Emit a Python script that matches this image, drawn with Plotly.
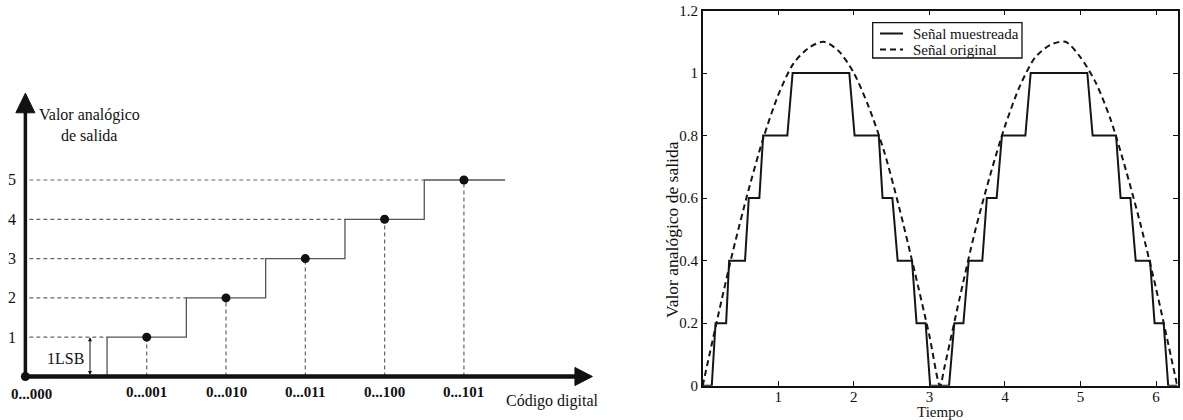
import plotly.graph_objects as go

W, H = 1183, 420
FONT = "Liberation Serif, Times New Roman, serif"

# ---------------- Right panel data ----------------
stair_t = [0, 0.12, 0.17, 0.31, 0.35, 0.56, 0.61, 0.75, 0.80, 1.12, 1.19, 1.94, 2.01,
           2.33, 2.38, 2.51, 2.58, 2.77, 2.83, 2.95, 3.01, 3.26, 3.33, 3.45, 3.52,
           3.70, 3.76, 3.89, 3.96, 4.27, 4.34, 5.09, 5.16, 5.47, 5.53, 5.66, 5.73,
           5.92, 5.98, 6.10, 6.16, 6.28]
stair_v = [0, 0, 0.2, 0.2, 0.4, 0.4, 0.6, 0.6, 0.8, 0.8, 1.0, 1.0, 0.8,
           0.8, 0.6, 0.6, 0.4, 0.4, 0.2, 0.2, 0, 0, 0.2, 0.2, 0.4,
           0.4, 0.6, 0.6, 0.8, 0.8, 1.0, 1.0, 0.8, 0.8, 0.6, 0.6, 0.4,
           0.4, 0.2, 0.2, 0, 0]
# Original signal
orig_t = [0, 0.2, 0.4, 0.6, 0.8, 1.0, 1.2, 1.4, 1.6, 1.8, 2.0, 2.2, 2.4, 2.6, 2.8,
          3.0, 3.14, 3.2, 3.4, 3.6, 3.8, 4.0, 4.2, 4.4, 4.6, 4.8, 5.0, 5.2, 5.4,
          5.6, 5.8, 6.0, 6.2, 6.28]
orig_v = [0, 0.22, 0.43, 0.62, 0.79, 0.93, 1.03, 1.08, 1.10, 1.07, 1.00, 0.89, 0.75,
          0.57, 0.37, 0.16, 0.0, 0.06, 0.28, 0.49, 0.67, 0.83, 0.96, 1.05, 1.09,
          1.10, 1.05, 0.97, 0.85, 0.69, 0.51, 0.31, 0.09, 0.0]
series_names = ["Señal muestreada", "Señal original"]
x_ticks = [1, 2, 3, 4, 5, 6]
y_ticks = [0, 0.2, 0.4, 0.6, 0.8, 1.0, 1.2]
y_ticktext = ["0", "0.2", "0.4", "0.6", "0.8", "1", "1.2"]

# ---------------- Left panel data ----------------
codes = ["0...001", "0...010", "0...011", "0...100", "0...101"]
code_pos = [1, 2, 3, 4, 5]
levels = [1, 2, 3, 4, 5]
origin_label = "0...000"
origin_x = -0.53
stair_end = 5.52
x_arrow_end = 6.62
y_arrow_end = 7.21

LINE_COL = "#151515"
DASH = "6px,4px"

fig = go.Figure()

# Right panel traces
fig.add_trace(go.Scatter(x=stair_t, y=stair_v, mode="lines", name=series_names[0],
                         line=dict(color=LINE_COL, width=2), xaxis="x", yaxis="y", showlegend=False))
fig.add_trace(go.Scatter(x=orig_t, y=orig_v, mode="lines", name=series_names[1],
                         line=dict(color=LINE_COL, width=2, dash=DASH, shape="spline", smoothing=0.8),
                         xaxis="x", yaxis="y", showlegend=False))

# Left panel traces
stair_x = [code_pos[0] - 0.5] + [c + 0.5 for c in code_pos[:-1]] + [stair_end]
stair_y = [0] + levels
fig.add_trace(go.Scatter(x=stair_x, y=stair_y, mode="lines", line=dict(color="#555", width=1.3, shape="vh"),
                         xaxis="x2", yaxis="y2", showlegend=False))
fig.add_trace(go.Scatter(x=code_pos, y=levels, mode="markers", marker=dict(color="#111", size=9),
                         xaxis="x2", yaxis="y2", showlegend=False))
fig.add_trace(go.Scatter(x=[origin_x], y=[0], mode="markers", marker=dict(color="#111", size=9),
                         xaxis="x2", yaxis="y2", showlegend=False))

shapes = []
dash_style = dict(color="#666", width=1.2, dash="4px,3px")
for c, lv in zip(code_pos, levels):
    shapes.append(dict(type="line", xref="x2", yref="y2", x0=origin_x + 0.05, x1=c - 0.5, y0=lv, y1=lv,
                       line=dash_style, layer="below"))
    shapes.append(dict(type="line", xref="x2", yref="y2", x0=c, x1=c, y0=0, y1=lv,
                       line=dash_style, layer="below"))
# axes lines with arrows
shapes.append(dict(type="line", xref="x2", yref="y2", x0=origin_x, x1=x_arrow_end - 0.2, y0=0, y1=0,
                   line=dict(color="#111", width=4.5)))
shapes.append(dict(type="path", xref="x2", yref="y2",
                   path=f"M {x_arrow_end-0.22},0.23 L {x_arrow_end},0 L {x_arrow_end-0.22},-0.23 Z",
                   fillcolor="#111", line=dict(color="#111", width=1)))
shapes.append(dict(type="line", xref="x2", yref="y2", x0=origin_x, x1=origin_x, y0=0, y1=y_arrow_end - 0.45,
                   line=dict(color="#111", width=3.5)))
shapes.append(dict(type="path", xref="x2", yref="y2",
                   path=f"M {origin_x-0.12},{y_arrow_end-0.5} L {origin_x},{y_arrow_end} L {origin_x+0.12},{y_arrow_end-0.5} Z",
                   fillcolor="#111", line=dict(color="#111", width=1)))

# Custom legend box (right panel), in paper pixels
def px(x):
    return x / W

def py(y):
    return (H - y) / H

leg_l, leg_r, leg_t, leg_b = 872.7, 1022, 22.7, 58
shapes.append(dict(type="rect", xref="paper", yref="paper", x0=px(leg_l), x1=px(leg_r), y0=py(leg_b), y1=py(leg_t),
                   line=dict(color="#111", width=1.3), fillcolor="white", layer="above"))
row_y = [33.5, 49.5]
shapes.append(dict(type="line", xref="paper", yref="paper", x0=px(880), x1=px(903), y0=py(row_y[0]), y1=py(row_y[0]),
                   line=dict(color=LINE_COL, width=2)))
shapes.append(dict(type="line", xref="paper", yref="paper", x0=px(880), x1=px(903), y0=py(row_y[1]), y1=py(row_y[1]),
                   line=dict(color=LINE_COL, width=2, dash=DASH)))

annotations = []
for name, ry in zip(series_names, row_y):
    annotations.append(dict(x=px(911), y=py(ry), xref="paper", yref="paper", text=name, showarrow=False,
                            xanchor="left", yanchor="middle", font=dict(family=FONT, size=15, color="#111")))

ann_font = dict(family=FONT, size=16, color="#111")
for lv in levels:
    annotations.append(dict(x=-0.70, y=lv, xref="x2", yref="y2", text=str(lv), showarrow=False, font=ann_font))
annotations.append(dict(x=0.28, y=6.65, xref="x2", yref="y2", text="Valor analógico", showarrow=False, font=ann_font))
annotations.append(dict(x=0.27, y=6.14, xref="x2", yref="y2", text="de salida", showarrow=False, font=ann_font))
annotations.append(dict(x=origin_x + 0.08, y=-0.45, xref="x2", yref="y2", text=f"<b>{origin_label}</b>",
                        showarrow=False, font=dict(family=FONT, size=15, color="#111")))
for c, lab in zip(code_pos, codes):
    annotations.append(dict(x=c, y=-0.40, xref="x2", yref="y2", text=f"<b>{lab}</b>", showarrow=False,
                            font=dict(family=FONT, size=15, color="#111")))
annotations.append(dict(x=6.12, y=-0.62, xref="x2", yref="y2", text="Código digital", showarrow=False, font=ann_font))
annotations.append(dict(x=-0.03, y=0.47, xref="x2", yref="y2", text="1LSB", showarrow=False, font=ann_font))
annotations.append(dict(x=0.285, y=1, ax=0.285, ay=0, xref="x2", yref="y2", axref="x2", ayref="y2",
                        text="", showarrow=True, arrowhead=2, startarrowhead=2, arrowside="end+start",
                        arrowsize=0.8, startarrowsize=0.8, arrowwidth=1, arrowcolor="#111"))
# Right panel axis titles
annotations.append(dict(x=px(672), y=py(230), xref="paper", yref="paper", text="Valor analógico de salida",
                        textangle=-90, showarrow=False, xanchor="center", yanchor="middle",
                        font=dict(family=FONT, size=17.5, color="#111")))
annotations.append(dict(x=px(940), y=py(411.5), xref="paper", yref="paper", text="Tiempo",
                        showarrow=False, xanchor="center", yanchor="middle",
                        font=dict(family=FONT, size=15, color="#111")))

axis_common = dict(showgrid=False, zeroline=False, showline=True, linecolor="#111", linewidth=1.5,
                   ticks="inside", ticklen=5, tickwidth=1, tickcolor="#111", mirror="ticks",
                   tickfont=dict(family=FONT, size=15, color="#111"))

fig.update_layout(
    width=W, height=H,
    margin=dict(l=0, r=0, t=0, b=0),
    paper_bgcolor="white", plot_bgcolor="white",
    template="none",
    hovermode=False,
    showlegend=False,
    xaxis=dict(domain=[px(702.7), px(1177.5)], range=[0, 6.2832], tickvals=x_ticks, anchor="y",
               ticklabelstandoff=-3, **axis_common),
    yaxis=dict(domain=[py(385.7), py(10.5)], range=[0, 1.2], tickvals=y_ticks, ticktext=y_ticktext,
               anchor="x", **axis_common),
    xaxis2=dict(domain=[0, px(600)], range=[-0.850, 6.716], visible=False, anchor="y2"),
    yaxis2=dict(domain=[0, 1], range=[-1.107, 9.580], visible=False, anchor="x2"),
    shapes=shapes,
    annotations=annotations,
)

fig.write_html("out.html")
